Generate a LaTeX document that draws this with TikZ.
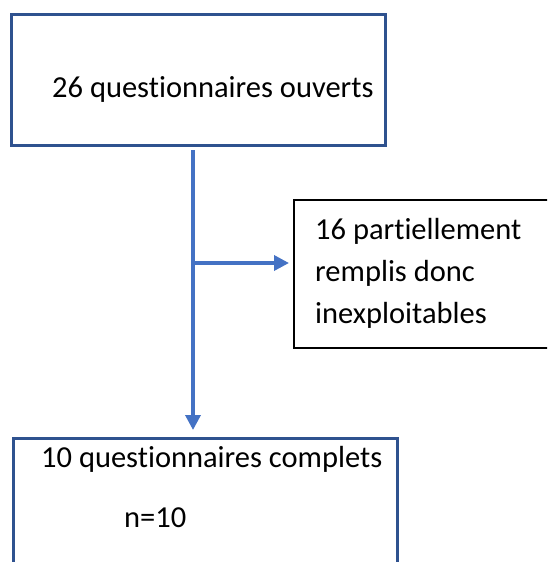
\documentclass[tikz,border=0pt]{standalone}
\usepackage{fontspec}
\setmainfont{Carlito}[Ligatures=NoCommon]
\usetikzlibrary{arrows.meta}
\definecolor{boxblue}{HTML}{2F528F}
\definecolor{arrowblue}{HTML}{4472C4}
\tikzset{
	flowbox/.style={draw=boxblue, line width=2.5pt, inner sep=0pt, anchor=north west},
	sidebox/.style={draw=black, line width=2.2pt, inner sep=0pt, anchor=north west},
	txt/.style={inner sep=0pt, anchor=base west, font=\fontsize{30.5}{41.7}\selectfont},
	flow/.style={draw=arrowblue, line width=3.5pt, -{Triangle[length=15pt,width=15pt]}}
}
\begin{document}
\begin{tikzpicture}[x=1pt,y=-1pt]
					% Frame of the page
					\useasboundingbox (0,0) rectangle (547,562);
					\clip (0,0) rectangle (547,562);
					% Boxes
					\node[flowbox, minimum width=374, minimum height=131] (ouverts) at (10,13) {};
					\node[sidebox, minimum width=270, minimum height=148] (partiel) at (293,199) {};
					\node[flowbox, minimum width=384, minimum height=200] (complets) at (12,437) {};
					% Texts (base = last line)
					\node[txt] (ouvertsT) at (52,97) {26 questionnaires ouverts};
					\node[txt, align=left] (partielT) at (315,323) {16 partiellement\\remplis donc\\inexploitables};
					\node[txt] (completsT) at (41,467) {10 questionnaires complets};
					\node[txt] (nT) at (124,527) {n=10};
					% Arrows
					\coordinate (start) at (193,150);
					\coordinate (split) at (193,263);
					\draw[flow] (start) -- (split |- complets.north) [shorten >=7pt];
					\draw[flow] (split) -- (split -| partiel.west) [shorten >=4pt];
				\end{tikzpicture}
\end{document}
